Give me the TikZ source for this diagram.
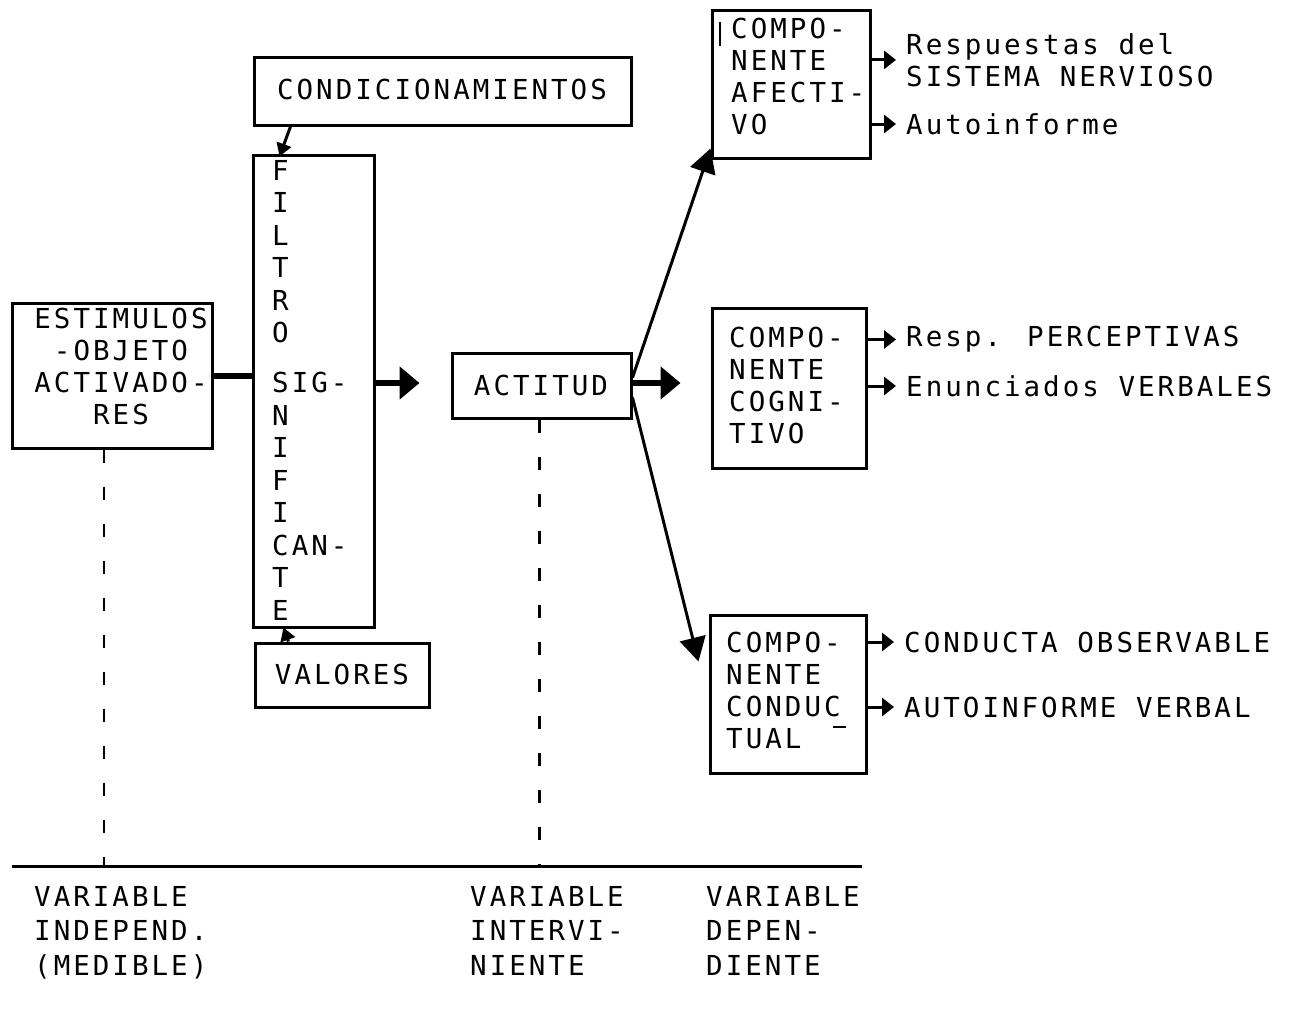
\documentclass[tikz,border=0pt]{standalone}
\usepackage{fontspec}
\newfontfamily\tw{DejaVu Sans Mono}[LetterSpace=11]
\usetikzlibrary{arrows.meta}
\tikzset{
  box/.style={draw, line width=3pt, inner sep=0pt},
  txt/.style={font=\tw\fontsize{27.5}{32}\selectfont, inner sep=0pt, align=left},
  btxt/.style={font=\tw\fontsize{27.5}{34.5}\selectfont, inner sep=0pt, align=left},
  sarr/.style={line width=3pt, -{Triangle[length=12pt,width=18pt]}},
  bigarr/.style={line width=5.5pt, -{Triangle[length=20pt,width=32pt]}},
  diag/.style={line width=3pt, -{Triangle[length=24pt,width=26pt]}},
  tiny/.style={line width=3pt, -{Triangle[length=13pt,width=15pt]}},
  vdash/.style={line width=2.5pt, dash pattern=on 13pt off 24pt},
}
\begin{document}
\begin{tikzpicture}[x=1pt,y=-1pt]
\useasboundingbox (0,0) rectangle (1295,1026);
% boxes
\node[box, minimum width=377pt, minimum height=68pt] (cond) at (442.5,91) {};
\node[box, minimum width=121pt, minimum height=472pt] (filtro) at (313.5,391) {};
\node[box, minimum width=200pt, minimum height=145pt] (estim) at (112,375.5) {};
\node[box, minimum width=174pt, minimum height=64pt] (valores) at (342,675) {};
\node[box, minimum width=179pt, minimum height=65pt] (actitud) at (541.5,385.5) {};
\node[box, minimum width=158pt, minimum height=148pt] (aff) at (791,84) {};
\node[box, minimum width=154pt, minimum height=160pt] (cog) at (789,388) {};
\node[box, minimum width=156pt, minimum height=158pt] (cnd) at (788,694) {};
% box texts
\node[txt] (tcond) at (442,89) {CONDICIONAMIENTOS};
\node[txt, anchor=north west, font=\tw\fontsize{27.5}{32.5}\selectfont] (tfil) at (272,160)
  {F\\I\\L\\T\\R\\O\\[17.5pt]SIG-\\N\\I\\F\\I\\CAN-\\T\\E};
\node[txt, anchor=north, align=center] (test) at (121,308) {ESTIMULOS\\-OBJETO\\ACTIVADO-\\RES};
\node[txt] (tval) at (342,674) {VALORES};
\node[txt] (tact) at (541,385) {ACTITUD};
\node[txt, anchor=north west] (taff) at (731,18) {COMPO-\\NENTE\\AFECTI-\\VO};
\node[txt, anchor=north west] (tcog) at (729,327) {COMPO-\\NENTE\\COGNI-\\TIVO};
\node[txt, anchor=north west] (tcnd) at (726,632) {COMPO-\\NENTE\\CONDUC\\TUAL};
% stray marks of the original
\draw[line width=1.8pt] (720,22) -- (720,46);
\draw[line width=2pt] (833,727) -- (846,727);
% right texts
\node[txt, anchor=north west] (r1) at (906,33) {Respuestas del\\SISTEMA NERVIOSO};
\node[txt, anchor=west] (r2) at (906,124) {Autoinforme};
\node[txt, anchor=west] (r3) at (906,339.5) {Resp. PERCEPTIVAS};
\node[txt, anchor=west] (r4) at (906,386) {Enunciados VERBALES};
\node[txt, anchor=west] (r5) at (904,642) {CONDUCTA OBSERVABLE};
\node[txt, anchor=west] (r6) at (904,707) {AUTOINFORME VERBAL};
% bottom texts
\node[btxt, anchor=north west] (b1) at (34,886) {VARIABLE\\INDEPEND.\\(MEDIBLE)};
\node[btxt, anchor=north west] (b2) at (470,886) {VARIABLE\\INTERVI-\\NIENTE};
\node[btxt, anchor=north west] (b3) at (706,886) {VARIABLE\\DEPEN-\\DIENTE};
% axis
\coordinate (axL) at (12,866);
\coordinate (axR) at (862,866);
\draw[line width=3pt] (axL) -- (axR);
\draw[vdash] ([xshift=-8pt]estim.south) -- ([xshift=-8pt]estim.south |- axL);
\draw[vdash] ([xshift=-2pt]actitud.south) -- ([xshift=-2pt]actitud.south |- axL);
% connectors
\draw[line width=6pt] (estim.east) -- (estim.east -| filtro.west);
\draw[bigarr] (filtro.east |- 0,383) -- ([xshift=-31pt]actitud.west |- 0,383);
\draw[bigarr] (actitud.east |- 0,383) -- ([xshift=-30pt]cog.west |- 0,383);
\draw[diag] ([yshift=8pt]actitud.east) -- ([yshift=11pt]aff.south west);
\draw[diag] ([yshift=-12pt]actitud.east) -- ([xshift=-10pt,yshift=-48pt]cnd.north west);
\draw[tiny] ([xshift=38pt]cond.south west) -- ([xshift=28pt,yshift=-3pt]filtro.north west);
\draw[tiny] ([xshift=35pt]valores.north west) -- ([xshift=32pt,yshift=1pt]filtro.south west);
% small output arrows
\draw[sarr] (aff.east |- r1.west) -- ([xshift=-10pt]r1.west);
\draw[sarr] (aff.east |- r2.west) -- ([xshift=-10pt]r2.west);
\draw[sarr] (cog.east |- r3.west) -- ([xshift=-10pt]r3.west);
\draw[sarr] (cog.east |- r4.west) -- ([xshift=-10pt]r4.west);
\draw[sarr] (cnd.east |- r5.west) -- ([xshift=-10pt]r5.west);
\draw[sarr] (cnd.east |- r6.west) -- ([xshift=-10pt]r6.west);
\end{tikzpicture}
\end{document}
